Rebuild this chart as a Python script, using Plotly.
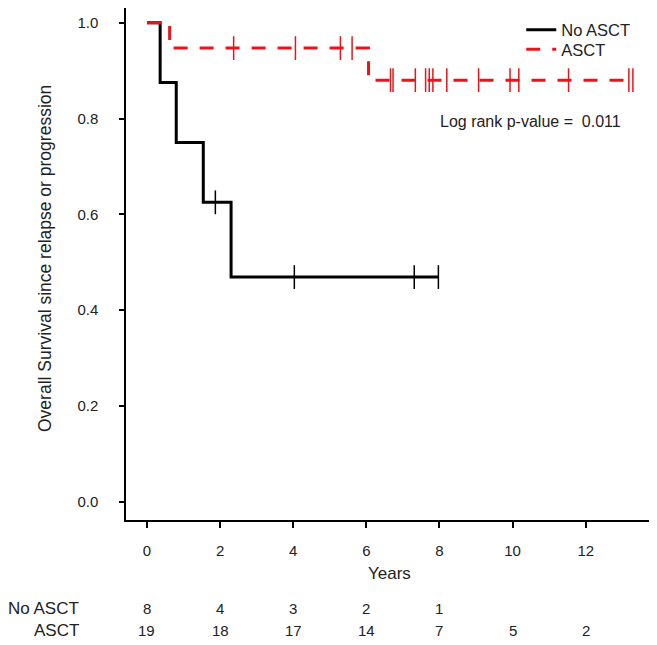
import plotly.graph_objects as go

# ---- data ----
no_step_t = [0.0, 0.36, 0.80, 1.54, 2.30, 7.97]
no_step_s = [1.0, 0.875, 0.75, 0.625, 0.469, 0.469]
no_cens_t = [1.87, 4.03, 7.31, 7.97]
no_cens_s = [0.625, 0.469, 0.469, 0.469]

asct_step_t = [0.0, 0.62, 6.06, 13.29]
asct_step_s = [1.0, 0.947, 0.880, 0.880]
asct_cens_t = [2.37, 4.06, 5.29, 5.61,
               6.66, 6.73, 7.34, 7.62, 7.72, 7.82,
               8.20, 9.07, 9.93, 10.17, 11.53, 13.18, 13.29]
asct_cens_s = [0.947, 0.947, 0.947, 0.947,
               0.880, 0.880, 0.880, 0.880, 0.880, 0.880,
               0.880, 0.880, 0.880, 0.880, 0.880, 0.880, 0.880]

risk_times = [0, 2, 4, 6, 8, 10, 12]
risk_no = [8, 4, 3, 2, 1]
risk_asct = [19, 18, 17, 14, 7, 5, 2]
x_ticks = [0, 2, 4, 6, 8, 10, 12]
y_ticks = [0.0, 0.2, 0.4, 0.6, 0.8, 1.0]

BLACK = "#000000"
RED = "#e8141c"
TXT = "#222222"
FONT = "Liberation Sans, Arial, sans-serif"
NUM = dict(size=15, color=TXT, family=FONT)
WORD = dict(size=17, color=TXT, family=FONT)
LEGF = dict(size=16.5, color=TXT, family=FONT)

fig = go.Figure()
fig.add_trace(go.Scatter(x=no_step_t, y=no_step_s, mode="lines", line_shape="hv",
                         line=dict(color=BLACK, width=3), name="No ASCT",
                         legend="legend"))
fig.add_trace(go.Scatter(x=asct_step_t, y=asct_step_s, mode="lines", line_shape="hv",
                         line=dict(color=RED, width=3, dash="14px,12px"), name="ASCT",
                         legend="legend2"))
fig.add_trace(go.Scatter(x=no_cens_t, y=no_cens_s, mode="markers", showlegend=False,
                         marker=dict(symbol="line-ns", size=17,
                                     line=dict(color=BLACK, width=1.5))))
fig.add_trace(go.Scatter(x=asct_cens_t, y=asct_cens_s, mode="markers", showlegend=False,
                         marker=dict(symbol="line-ns", size=17,
                                     line=dict(color=RED, width=1.5))))

ann = []
ann.append(dict(text="Years", xref="paper", yref="paper", x=0.5, y=0,
                yanchor="middle", xanchor="center", yshift=-53, showarrow=False,
                font=WORD))
ann.append(dict(text="Overall Survival since relapse or progression", xref="paper",
                yref="paper", x=0, y=0.5, xanchor="center", yanchor="middle",
                xshift=-81, yshift=5, textangle=-90, showarrow=False,
                font=dict(size=17.5, color=TXT, family=FONT)))
ann.append(dict(text="Log rank p-value =  0.011", xref="x", yref="y",
                x=7.97, y=0.793, xanchor="left", yanchor="middle", showarrow=False,
                font=dict(size=16, color=TXT, family=FONT)))
ann.append(dict(text="No ASCT", xref="paper", yref="paper", x=0, y=0,
                xanchor="right", yanchor="middle", xshift=-45, yshift=-88,
                showarrow=False, font=WORD))
ann.append(dict(text="ASCT", xref="paper", yref="paper", x=0, y=0,
                xanchor="right", yanchor="middle", xshift=-45, yshift=-110,
                showarrow=False, font=WORD))
for t, n in zip(risk_times, risk_no):
    ann.append(dict(text=str(n), xref="x", yref="paper", x=t, y=0, yanchor="middle",
                    yshift=-88, showarrow=False, font=NUM))
for t, n in zip(risk_times, risk_asct):
    ann.append(dict(text=str(n), xref="x", yref="paper", x=t, y=0, yanchor="middle",
                    yshift=-110, showarrow=False, font=NUM))

leg_common = dict(x=0.75, xanchor="left", yanchor="middle",
                  bgcolor="rgba(0,0,0,0)", font=LEGF, itemwidth=30)

# page has an 8px body margin; figure is sized so it ends at the window edge
fig.update_layout(
    width=649, height=637,
    margin=dict(l=118, r=4, t=0, b=125),
    plot_bgcolor="white", paper_bgcolor="white",
    font=dict(family=FONT, size=15, color=TXT),
    showlegend=True,
    legend=dict(y=0.957, **leg_common),
    legend2=dict(y=0.919, **leg_common),
    annotations=ann,
    xaxis=dict(range=[-0.574, 13.84], tickvals=x_ticks, ticktext=[str(v) for v in x_ticks],
               showline=True, linecolor="black", linewidth=1.5, mirror=False,
               ticks="outside", ticklen=6, tickwidth=1.5, tickcolor="black",
               showgrid=False, zeroline=False, ticklabelstandoff=10, tickfont=NUM),
    yaxis=dict(range=[-0.0382, 1.0307], tickvals=y_ticks, ticktext=[f"{v:.1f}" for v in y_ticks],
               showline=True, linecolor="black", linewidth=1.5, mirror=False,
               ticks="outside", ticklen=5, tickwidth=1.5, tickcolor="black",
               showgrid=False, zeroline=False, ticklabelstandoff=18, tickfont=NUM),
)

fig.write_html("out.html")
